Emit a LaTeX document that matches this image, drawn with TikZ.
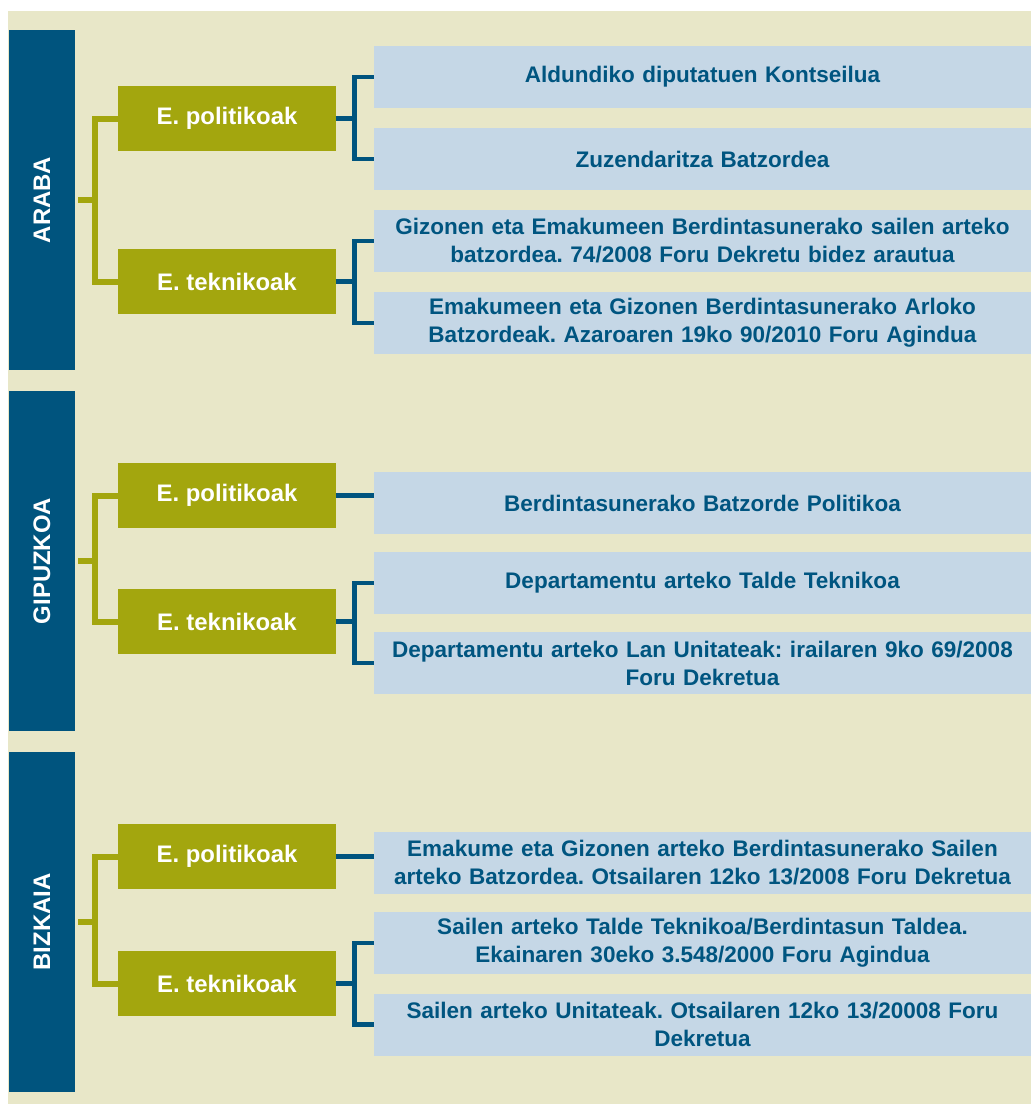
\documentclass[tikz,border=0pt]{standalone}
\usepackage{fontspec}
\setmainfont{Liberation Sans}
\frenchspacing
\definecolor{bardark}{HTML}{00547E}
\definecolor{olivebox}{HTML}{A3A60E}
\definecolor{paleblue}{HTML}{C5D7E6}
\definecolor{paper}{HTML}{E8E7C8}
\definecolor{inkblue}{HTML}{005580}
\begin{document}
\begin{tikzpicture}[x=1bp,y=-1bp,
    region/.style={fill=bardark,minimum width=66bp,minimum height=340bp,inner sep=0pt,
        text=white,font=\fontsize{24}{28}\selectfont\bfseries},
    organ/.style={fill=olivebox,minimum width=217bp,minimum height=65bp,inner sep=0pt,
        text=white,font=\fontsize{24}{28}\selectfont\bfseries},
    body/.style={fill=paleblue,minimum width=657bp,minimum height=62bp,inner sep=0pt,
        text width=650bp,align=center,text=inkblue,font=\fontsize{22.6}{28}\selectfont\bfseries},
    olivelink/.style={draw=olivebox,line width=6bp},
    bluelink/.style={draw=bardark,line width=4.5bp}]
    \useasboundingbox (0,0) rectangle (1031,1104);
    \fill[paper] (8,11) rectangle (1031,1104);
    % ARABA
    \node[region] (araba) at (42,200) {\rotatebox{90}{ARABA}};
    \node[organ] (arabapol) at (227,118.5) {E. politikoak};
    \node[organ] (arabatek) at (227,281.5) {E. teknikoak};
    \node[body] (aldundi) at (702.5,77) {Aldundiko diputatuen Kontseilua};
    \node[body] (zuzen) at (702.5,159) {Zuzendaritza Batzordea};
    \node[body] (sailen) at (702.5,241) {Gizonen eta Emakumeen Berdintasunerako sailen arteko\\batzordea. 74/2008 Foru Dekretu bidez arautua};
    \node[body] (arloko) at (702.5,323) {Emakumeen eta Gizonen Berdintasunerako Arloko\\Batzordeak. Azaroaren 19ko 90/2010 Foru Agindua};
    \draw[olivelink] ([xshift=3bp]araba.east) -- ++(17,0) coordinate (arabaj) |- (arabapol.west);
    \draw[olivelink] (arabaj) |- (arabatek.west);
    \draw[bluelink] (arabapol.east) -- ++(19,0) coordinate (arabap) |- (aldundi.west);
    \draw[bluelink] (arabap) |- (zuzen.west);
    \draw[bluelink] (arabatek.east) -- ++(19,0) coordinate (arabat) |- (sailen.west);
    \draw[bluelink] (arabat) |- (arloko.west);
    % GIPUZKOA
    \node[region] (gipuzkoa) at (42,561) {\rotatebox{90}{GIPUZKOA}};
    \node[organ] (gipuzpol) at (227,495.5) {E. politikoak};
    \node[organ] (gipuztek) at (227,621.5) {E. teknikoak};
    \node[body] (politikoa) at (702.5,503) {Berdintasunerako Batzorde Politikoa};
    \node[body] (taldeg) at (702.5,583) {Departamentu arteko Talde Teknikoa};
    \node[body] (unitateg) at (702.5,663) {Departamentu arteko Lan Unitateak: irailaren 9ko 69/2008\\Foru Dekretua};
    \draw[olivelink] ([xshift=3bp]gipuzkoa.east) -- ++(17,0) coordinate (gipuzj) |- (gipuzpol.west);
    \draw[olivelink] (gipuzj) |- (gipuztek.west);
    \draw[bluelink] (gipuzpol.east) -- (gipuzpol.east -| politikoa.west);
    \draw[bluelink] (gipuztek.east) -- ++(19,0) coordinate (gipuzt) |- (taldeg.west);
    \draw[bluelink] (gipuzt) |- (unitateg.west);
    % BIZKAIA
    \node[region] (bizkaia) at (42,922) {\rotatebox{90}{BIZKAIA}};
    \node[organ] (bizkpol) at (227,856.5) {E. politikoak};
    \node[organ] (bizktek) at (227,983.5) {E. teknikoak};
    \node[body] (sailbatz) at (702.5,863) {Emakume eta Gizonen arteko Berdintasunerako Sailen\\arteko Batzordea. Otsailaren 12ko 13/2008 Foru Dekretua};
    \node[body] (taldeb) at (702.5,943) {Sailen arteko Talde Teknikoa/Berdintasun Taldea.\\Ekainaren 30eko 3.548/2000 Foru Agindua};
    \node[body] (unitateb) at (702.5,1024.5) {Sailen arteko Unitateak. Otsailaren 12ko 13/20008 Foru\\Dekretua};
    \draw[olivelink] ([xshift=3bp]bizkaia.east) -- ++(17,0) coordinate (bizkj) |- (bizkpol.west);
    \draw[olivelink] (bizkj) |- (bizktek.west);
    \draw[bluelink] (bizkpol.east) -- (bizkpol.east -| sailbatz.west);
    \draw[bluelink] (bizktek.east) -- ++(19,0) coordinate (bizkt) |- (taldeb.west);
    \draw[bluelink] (bizkt) |- (unitateb.west);
\end{tikzpicture}
\end{document}
